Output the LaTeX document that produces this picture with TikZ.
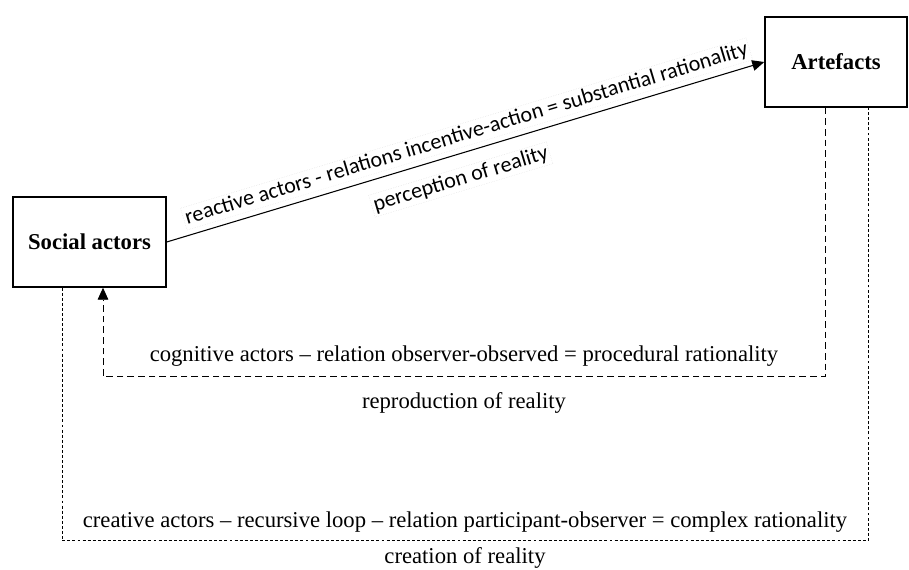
\documentclass[tikz,border=0pt]{standalone}
\usepackage{fontspec}
\setmainfont{Liberation Serif}
\newfontfamily\labelfont{Carlito}
\usetikzlibrary{arrows.meta}

\begin{document}
\begin{tikzpicture}[x=0.75pt, y=-0.75pt, >={Triangle[length=9pt,width=8pt]},
	box/.style={rectangle, draw, line width=1.1pt, minimum height=67.5pt, font=\fontsize{17}{20}\selectfont\bfseries},
	rellabel/.style={sloped, draw=gray!35, densely dotted, line width=0.3pt, inner sep=1.5pt, font=\labelfont\fontsize{16.5}{18}\selectfont},
	looplabel/.style={font=\fontsize{17}{20}\selectfont},
	repline/.style={dashed, dash pattern=on 5pt off 3pt, line width=0.7pt},
	creline/.style={dash pattern=on 2.2pt off 1.6pt, line width=0.6pt}]
	\useasboundingbox (0,0) rectangle (909,570);
	%Social actors
	\node [box, minimum width=114.75pt] (social) at (89.5,242) {Social actors};
	%Artefacts
	\node [box, minimum width=106.5pt] (artefacts) at (836,62) {Artefacts};
	%Perception of reality
	\draw[->, line width=0.8pt] (social.east) -- node [rellabel, above=4pt, pos=0.51] {reactive actors - relations incentive-action = substantial rationality} node [rellabel, below=10pt, pos=0.48] {perception of reality} (artefacts.west);
	%Reproduction of reality
	\draw[repline, ->] ([xshift=-8.25pt]artefacts.south) -- ++(0,269) -| node [looplabel, pos=0.25, above=4pt] {cognitive actors – relation observer-observed = procedural rationality} node [looplabel, pos=0.25, below=8pt] {reproduction of reality} ([xshift=10.125pt]social.south);
	%Creation of reality
	\draw[creline] ([xshift=-20.625pt]social.south) -- ++(0,253) -| node [looplabel, pos=0.25, above=2.5pt] {creative actors – recursive loop – relation participant-observer = complex rationality} node [looplabel, pos=0.25, below=1.5pt] {creation of reality} ([xshift=24pt]artefacts.south);
\end{tikzpicture}
\end{document}
